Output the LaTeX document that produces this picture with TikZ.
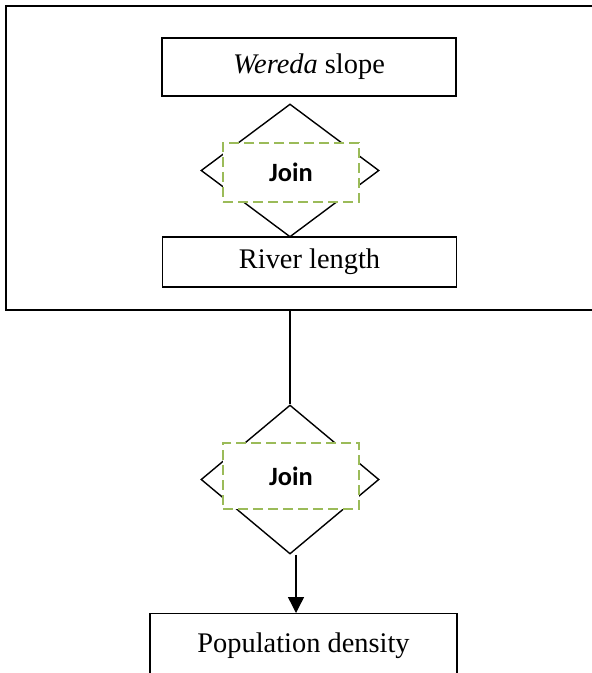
\documentclass[tikz,border=0pt]{standalone}
\usepackage{fontspec}
\setmainfont{Liberation Serif}
\newfontfamily\joinfont{Carlito}
\usetikzlibrary{shapes.geometric, arrows, arrows.meta}
\definecolor{joingreen}{HTML}{9BBB59}
\tikzstyle{field} = [rectangle, minimum width=147pt, minimum height=29pt, text centered, draw=black, line width=0.7pt, inner sep=2pt, font=\fontsize{14.2}{17}\selectfont]
\tikzstyle{gate} = [diamond, minimum width=89pt, minimum height=66.5pt, draw=black, line width=0.7pt, inner sep=0pt]
\tikzstyle{joinbox} = [rectangle, minimum width=68pt, minimum height=29.5pt, draw=joingreen, fill=white, line width=1pt, dash pattern=on 5pt off 2.5pt, text centered, font=\joinfont\bfseries\fontsize{13.2}{15}\selectfont]
\tikzstyle{arrow} = [line width=0.7pt,-{Triangle[length=8pt,width=8pt]}]

\begin{document}
\begin{tikzpicture}[x=0.5pt, y=-0.5pt]
\useasboundingbox (0,0) rectangle (591,673);

% Outer frame
\node (frame) [rectangle, draw=black, line width=1pt, minimum width=297pt, minimum height=152pt, inner sep=0pt] at (303,158) {};

% Upper join
\node (slope) [field] at (309,67) {\textit{Wereda} slope\hspace{7pt}};
\node (gate1) [gate] at (290,170.5) {};
\node (join1) [joinbox] at (291,172.5) {Join};
\node (river) [field, minimum height=25pt] at (309.5,262) {River length\hspace{9pt}};

% Lower join
\node (gate2) [gate, minimum height=74.5pt] at (290,479.5) {};
\node (join2) [joinbox, minimum height=33pt] at (291,476) {Join};
\node (pop) [field, anchor=north, minimum width=153.5pt, minimum height=32pt] at (303.5,613) {Population density};

% Drawing connectors
\draw [line width=0.7pt] (frame.south -| gate2.north) -- (gate2.north);
\draw [arrow] ([xshift=3pt]gate2.south) -- ([xshift=3pt]gate2.south |- pop.north);

\end{tikzpicture}
\end{document}
